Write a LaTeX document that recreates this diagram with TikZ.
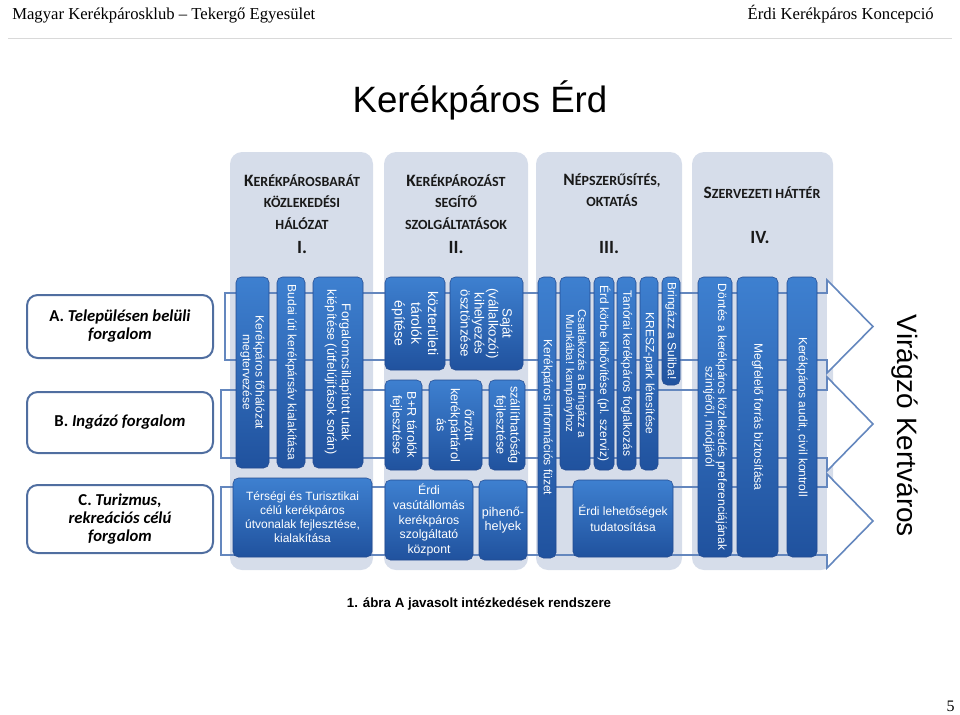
\documentclass[tikz,border=0pt]{standalone}
\usepackage{fontspec}
\setmainfont{Liberation Sans}
\newfontfamily\serifrm{Liberation Serif}
\newfontfamily\calib{Carlito}
\definecolor{colbgc}{RGB}{214,221,234}
\definecolor{barTop}{RGB}{62,128,208}
\definecolor{barBot}{RGB}{32,82,158}
\definecolor{barEdge}{RGB}{35,75,145}
\definecolor{arrc}{RGB}{100,135,190}
\definecolor{rowc}{RGB}{80,110,160}
\definecolor{hdrc}{RGB}{25,25,25}
\newcommand\SCap[2]{{\fontsize{13}{16}\selectfont #1}#2}
\begin{document}
\begin{tikzpicture}[x=0.75pt,y=-0.75pt,
 colbg/.style={fill=colbgc, rounded corners=9pt, inner sep=0pt, draw=none},
 bar/.style={rounded corners=4pt, top color=barTop, bottom color=barBot, draw=barEdge, line width=0.4pt, inner sep=0pt},
 btxt/.style={rotate=-90, text=white, align=center, inner sep=0pt, font=\fontsize{9}{9.5}\selectfont},
 hbar/.style={bar, text=white, align=center, font=\fontsize{9}{10.5}\selectfont},
 rowbox/.style={draw=rowc, line width=1.5pt, rounded corners=8pt, fill=white, inner sep=0pt, align=center, font=\calib\bfseries\fontsize{12.5}{13.5}\selectfont},
 hdr/.style={align=center, text=hdrc, inner sep=0pt, font=\calib\bfseries\fontsize{10.5}{16}\selectfont},
 roman/.style={text=hdrc, inner sep=0pt, font=\calib\bfseries\fontsize{14}{16}\selectfont},
 arr/.style={draw=arrc, line width=1.2pt, line join=miter}
]
\useasboundingbox (0,0) rectangle (960,714);

% page header
\node[anchor=base west, inner sep=0pt, font=\serifrm\fontsize{12.5}{14}\selectfont] (hl) at (12,19) {Magyar Kerékpárosklub – Tekergő Egyesület};
\node[anchor=base east, inner sep=0pt, font=\serifrm\fontsize{12.5}{14}\selectfont] (hr) at (934,19) {Érdi Kerékpáros Koncepció};
\coordinate (ll) at (8,38);
\coordinate (lr) at (952,38);
\draw[gray!30, line width=0.5pt] (ll) -- (lr);

% title
\node[anchor=base, inner sep=0pt, font=\fontsize{27.5}{30}\selectfont] (title) at (480,112) {Kerékpáros Érd};

% column backgrounds
\node[colbg, minimum width=107.25pt, minimum height=313.5pt] (c1) at (301.5,361) {};
\node[colbg, minimum width=108pt, minimum height=313.5pt] (c2) at (456,361) {};
\node[colbg, minimum width=109.5pt, minimum height=313.5pt] (c3) at (609,361) {};
\node[colbg, minimum width=105.75pt, minimum height=313.5pt] (c4) at (762.5,361) {};

% big arrows
\fill[white] (827,280) -- (873,326.5) -- (827,373) -- cycle;
\draw[arr] (225,293) -- (827,293) -- (827,280) -- (873,326.5) -- (827,373) -- (827,360) -- (225,360) -- cycle;
\fill[white] (827,377) -- (873,424) -- (827,471) -- cycle;
\draw[arr] (221,390) -- (827,390) -- (827,377) -- (873,424) -- (827,471) -- (827,458) -- (221,458) -- cycle;
\fill[white] (827,474) -- (873,521) -- (827,568) -- cycle;
\draw[arr] (221,487) -- (827,487) -- (827,474) -- (873,521) -- (827,568) -- (827,555) -- (221,555) -- cycle;

% row labels
\node[rowbox, minimum width=139.5pt, minimum height=47.25pt] (rA) at (120,326.5) {A. \textit{Településen belüli}\\\textit{forgalom}};
\node[rowbox, minimum width=139.5pt, minimum height=45.75pt] (rB) at (120,422.5) {B. \textit{Ingázó forgalom}};
\node[rowbox, minimum width=139.5pt, minimum height=51pt] (rC) at (120,519) {C. \textit{Turizmus,}\\\textit{rekreációs célú}\\\textit{forgalom}};

% column headers
\node[hdr] (hd1) at (302,202) {\SCap{K}{ERÉKPÁROSBARÁT}\\KÖZLEKEDÉSI\\HÁLÓZAT};
\node[roman] (rn1) at (302,248) {I.};
\node[hdr] (hd2) at (456,202) {\SCap{K}{ERÉKPÁROZÁST}\\SEGÍTŐ\\SZOLGÁLTATÁSOK};
\node[roman] (rn2) at (456,248) {II.};
\node[hdr] (hd3) at (612,190) {\SCap{N}{ÉPSZERŰSÍTÉS,}\\OKTATÁS};
\node[roman] (rn3) at (609,248) {III.};
\node[hdr] (hd4) at (762,193) {\SCap{S}{ZERVEZETI HÁTTÉR}};
\node[roman] (rn4) at (760,238) {IV.};

% column I
\node[bar, minimum width=24.75pt, minimum height=143.25pt] (b1) at (252.5,372.5) {};
\node[btxt] (t1) at (b1.center) {Kerékpáros főhálózat\\megtervezése};
\node[bar, minimum width=21pt, minimum height=143.25pt] (b2) at (291,372.5) {};
\node[btxt] (t2) at (b2.center) {Budai úti kerékpársáv kialakítása};
\node[bar, minimum width=37.5pt, minimum height=143.25pt] (b3) at (338,372.5) {};
\node[btxt, font=\fontsize{9.5}{11}\selectfont] (t3) at (b3.center) {Forgalomcsillapított utak\\kiépítése (útfelújítások során)};
\node[hbar, minimum width=104.25pt, minimum height=59.25pt] (h1) at (302.5,517.5) {Térségi és Turisztikai\\célú kerékpáros\\útvonalak fejlesztése,\\kialakítása};

% column II
\node[bar, minimum width=45pt, minimum height=69.75pt] (b4) at (415,323.5) {};
\node[btxt, font=\fontsize{10.5}{12.5}\selectfont] (t4) at (b4.center) {közterületi\\tárolók\\építése};
\node[bar, minimum width=54.75pt, minimum height=69.75pt] (b5) at (486.5,323.5) {};
\node[btxt, font=\fontsize{10}{10.5}\selectfont] (t5) at (b5.center) {Saját\\(vállalkozói)\\kihelyezés\\ösztönzése};
\node[bar, minimum width=27.75pt, minimum height=67.5pt] (b6) at (403.5,425) {};
\node[btxt, font=\fontsize{9.5}{11}\selectfont] (t6) at (b6.center) {B+R tárolók\\fejlesztése};
\node[bar, minimum width=39.75pt, minimum height=67.5pt] (b7) at (455.5,425) {};
\node[btxt, font=\fontsize{9.5}{10.5}\selectfont] (t7) at (b7.center) {őrzött\\kerékpártárol\\ás};
\node[bar, minimum width=27pt, minimum height=67.5pt] (b8) at (507,425) {};
\node[btxt, font=\fontsize{9.5}{10.5}\selectfont] (t8) at (b8.center) {szállíthatóság\\fejlesztése};
\node[hbar, minimum width=66pt, minimum height=60pt, font=\fontsize{9.2}{10.9}\selectfont] (h2) at (429,520) {Érdi\\vasútállomás\\kerékpáros\\szolgáltató\\központ};
\node[hbar, minimum width=36pt, minimum height=60pt, font=\fontsize{9.5}{11}\selectfont] (h3) at (503,520) {pihenő-\\helyek};

% column III
\node[bar, minimum width=13.5pt, minimum height=210.75pt] (b9) at (547,417.5) {};
\node[btxt] (t9) at (b9.center) {Kerékpáros információs füzet};
\node[bar, minimum width=22.5pt, minimum height=144.75pt] (b10) at (575,373.5) {};
\node[btxt, font=\fontsize{8.5}{9}\selectfont] (t10) at (b10.center) {Csatlakozás a Bringázz a\\Munkába! kampányhoz};
\node[bar, minimum width=15pt, minimum height=144.75pt] (b11) at (604,373.5) {};
\node[btxt] (t11) at (b11.center) {Érd körbe kibővítése (pl. szerviz)};
\node[bar, minimum width=14.25pt, minimum height=144.75pt] (b12) at (626.5,373.5) {};
\node[btxt] (t12) at (b12.center) {Tanórai kerékpáros foglalkozás};
\node[bar, minimum width=13.5pt, minimum height=144.75pt] (b13) at (649,373.5) {};
\node[btxt] (t13) at (b13.center) {KRESZ-park létesítése};
\node[bar, minimum width=13.5pt, minimum height=81pt] (b14) at (671,331) {};
\node[btxt] (t14) at (b14.center) {Bringázz a Suliba!};
\node[hbar, minimum width=75pt, minimum height=57.75pt, font=\fontsize{9}{12}\selectfont] (h4) at (623,518.5) {Érdi lehetőségek\\tudatosítása};

% column IV
\node[bar, minimum width=25.5pt, minimum height=210pt] (b15) at (715,417) {};
\node[btxt] (t15) at (b15.center) {Döntés a kerékpáros közlekedés preferenciájának\\szintjéről, módjáról};
\node[bar, minimum width=30.75pt, minimum height=210pt] (b16) at (757.5,417) {};
\node[btxt] (t16) at (b16.center) {Megfelelő forrás biztosítása};
\node[bar, minimum width=22.5pt, minimum height=210pt] (b17) at (802,417) {};
\node[btxt] (t17) at (b17.center) {Kerékpáros audit, civil kontroll};

% result
\node[rotate=-90, inner sep=0pt, font=\fontsize{21}{24}\selectfont] (vk) at (905,426) {Virágzó Kertváros};

% caption and page number
\node[inner sep=0pt, font=\bfseries\fontsize{10}{12}\selectfont] (cap) at (479,604) {1. ábra A javasolt intézkedések rendszere};
\node[anchor=base east, inner sep=0pt, font=\serifrm\fontsize{12}{14}\selectfont] (pg) at (955,711) {5};
\end{tikzpicture}
\end{document}
